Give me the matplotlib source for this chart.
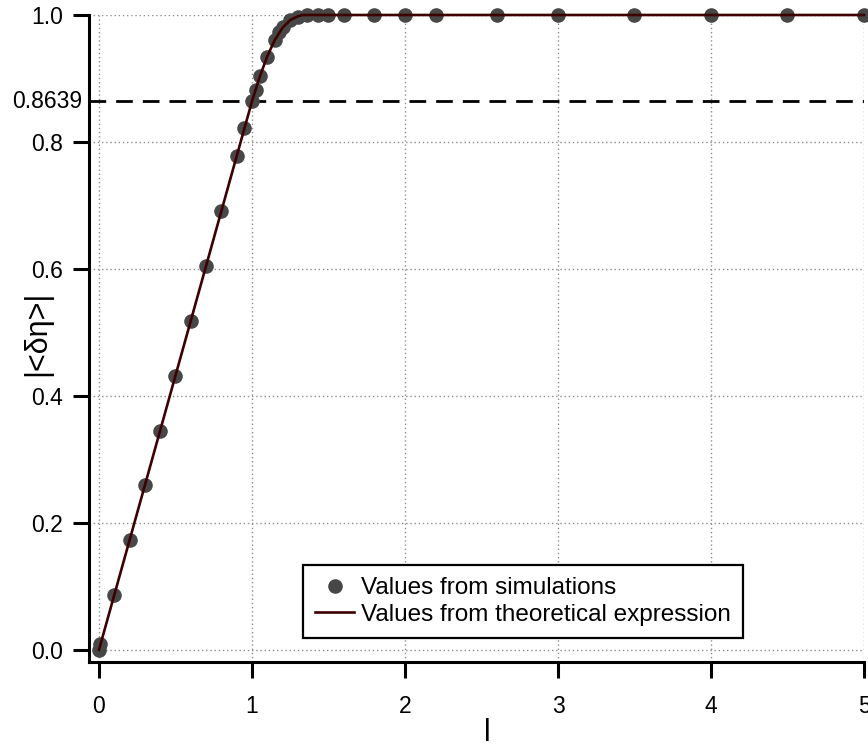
import matplotlib.pyplot as plt
import matplotlib.transforms as mtransforms

plt.rcParams['font.family'] = ['Liberation Sans', 'DejaVu Sans']

# simulation points
sim_x = [0.0, 0.01, 0.1, 0.2, 0.3, 0.4, 0.5, 0.6, 0.7, 0.8, 0.9, 0.95, 1.0,
         1.025, 1.05, 1.1, 1.15, 1.175, 1.2, 1.25, 1.3, 1.36, 1.43, 1.5,
         1.6, 1.8, 2.0, 2.2, 2.6, 3.0, 3.5, 4.0, 4.5, 5.0]
sim_y = [0.0, 0.0086, 0.0866, 0.173, 0.26, 0.345, 0.431, 0.518, 0.605, 0.691,
         0.778, 0.822, 0.865, 0.882, 0.904, 0.934, 0.961, 0.973, 0.981, 0.992,
         0.997, 1.0, 1.0, 1.0, 1.0, 1.0, 1.0, 1.0, 1.0, 1.0, 1.0, 1.0, 1.0, 1.0]

# theoretical curve
theo_x = [0.0, 1.0, 1.05, 1.1, 1.15, 1.2, 1.25, 1.3, 1.33, 1.4, 5.0]
theo_y = [0.0, 0.8639, 0.902, 0.935, 0.961, 0.98, 0.992, 0.998, 1.0, 1.0, 1.0]

threshold = 0.8639
threshold_label = '0.8639'
yticks = [0.0, 0.2, 0.4, 0.6, 0.8, 1.0]
ytick_labels = ['0.0', '0.2', '0.4', '0.6', '0.8', '1.0']
xticks = [0, 1, 2, 3, 4, 5]

fig = plt.figure(figsize=(8.68, 7.46), dpi=100)
ax = fig.add_axes([89 / 868, 84 / 746, 775 / 868, 647 / 746])

ax.set_xlim(-0.065, 5)
ax.set_ylim(-0.019, 1)

# grid (dotted, gray)
for x in xticks:
    ax.axvline(x, color='#8c8c8c', lw=1, ls=(0, (1, 2)), zorder=0)
for y in yticks:
    ax.axhline(y, color='#8c8c8c', lw=1, ls=(0, (1, 2)), zorder=0)

ax.axhline(threshold, color='black', lw=2, dashes=(6, 3.6), zorder=1)
# threshold label sits right next to the axis, without a tick mark
trans = mtransforms.blended_transform_factory(ax.transAxes, ax.transData)
ax.text(-7 / 775, threshold, threshold_label, transform=trans, ha='right',
        va='center', fontsize=16.5)

ax.plot(sim_x, sim_y, 'o', color='#474747', markersize=10.5, markeredgewidth=0,
        clip_on=False, zorder=3, label='Values from simulations')
ax.plot(theo_x, theo_y, '-', color='#3d0000', lw=1.9, clip_on=False, zorder=4,
        label='Values from theoretical expression')

ax.set_xticks(xticks)
ax.set_xticklabels([str(x) for x in xticks])
ax.set_yticks(yticks)
ax.set_yticklabels(ytick_labels)

for side in ['top', 'right']:
    ax.spines[side].set_visible(False)
for side in ['left', 'bottom']:
    ax.spines[side].set_linewidth(2.2)

ax.tick_params(axis='both', direction='out', length=11.5, width=2.2, labelsize=16.5)
ax.tick_params(axis='x', pad=12)
ax.tick_params(axis='y', pad=7)

ax.set_xlabel('l', fontsize=22)
ax.xaxis.set_label_coords((487 - 89) / 775, (662 - 741) / 647)
ax.xaxis.label.set_va('baseline')
ax.set_ylabel('|<δη>|', fontsize=22)
ax.yaxis.set_label_coords((37 - 89) / 775, (662 - 333) / 647)
ax.yaxis.label.set_va('center')

leg = ax.legend(loc='upper left', bbox_to_anchor=(303 / 868, 1 - 565 / 746),
                bbox_transform=fig.transFigure, fontsize=17.5, frameon=True,
                fancybox=False, framealpha=1, edgecolor='black', borderpad=0.5,
                handlelength=1.6, handletextpad=0.3, labelspacing=0.18,
                borderaxespad=0)
leg.get_frame().set_linewidth(1.6)

fig.savefig('out.png', dpi=100)
